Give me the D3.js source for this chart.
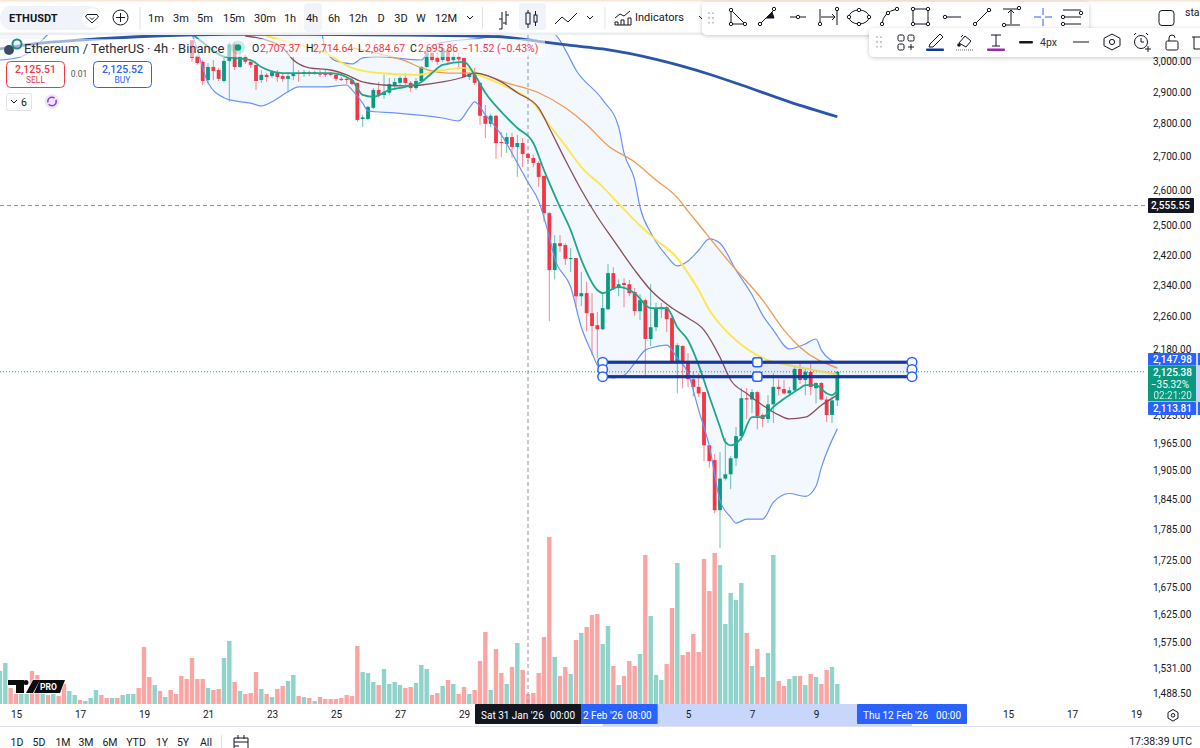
<!DOCTYPE html>
<html><head><meta charset="utf-8">
<script src="https://cdn.jsdelivr.net/npm/d3@7/dist/d3.min.js"></script>
<style>html,body{margin:0;padding:0;background:#fff;overflow:hidden}svg{display:block}text{font-family:Roboto,"Noto Sans",sans-serif}</style>
</head><body><svg id="c" width="1200" height="748"></svg>
<script>
// ---------- data ----------
const firstCandle = 33; // bar index of the first candle visible (earlier bars sit above the pane)
const opens = [3070,3017,2997,2937,2980,2970,2934,3000,3056,2980,3014,2997,2987,2937,2954,2950,2963,2950,2941,2950,2960,2957,2963,2957,2960,2958,2957,2954,2941,2941,2937,2928,2813,2813,2848,2905,2889,2896,2921,2928,2944,2928,2911,2934,2980,3027,3010,3003,3037,3003,3014,3010,2947,2963,2928,2823,2798,2823,2742,2736,2757,2727,2739,2706,2694,2679,2641,2534,2379,2451,2446,2409,2411,2311,2319,2268,2238,2228,2278,2371,2332,2345,2342,2322,2273,2301,2204,2233,2278,2283,2256,2148,2187,2146,2108,2090,2078,1959,1927,1823,1888,1897,1931,1979,2064,2061,2078,2026,2017,2050,2090,2085,2075,2082,2132,2106,2125,2087,2099,2061,2026,2059];
const highs = [3070,3020,3003,2993,3003,2977,3010,3063,3063,3037,3020,3003,2987,2970,2960,2970,2970,2960,2963,3014,2970,2970,2967,2967,2970,2970,2963,2960,2947,2947,2947,2928,2826,2854,2911,2931,2954,2944,2944,2950,2960,2934,2944,2983,3037,3037,3027,3050,3053,3037,3027,3010,2963,2977,2928,2857,2829,2826,2773,2770,2770,2764,2754,2709,2703,2685,2641,2537,2473,2473,2451,2438,2411,2374,2348,2319,2271,2319,2395,2387,2355,2358,2353,2332,2317,2306,2342,2294,2294,2286,2261,2194,2189,2170,2125,2122,2078,1959,1940,1944,1975,1936,1999,2087,2087,2085,2080,2030,2071,2122,2108,2106,2090,2136,2146,2132,2146,2101,2101,2068,2068,2125];
const lows = [2997,2987,2921,2924,2937,2934,2928,2867,2970,2977,2990,2977,2905,2928,2931,2944,2931,2931,2896,2937,2931,2947,2950,2954,2947,2947,2950,2934,2934,2924,2921,2804,2788,2810,2844,2880,2876,2889,2905,2921,2921,2899,2905,2931,2977,2997,2987,2997,2987,2993,2980,2947,2937,2921,2795,2754,2788,2691,2697,2709,2694,2638,2667,2685,2667,2609,2509,2248,2355,2427,2393,2374,2283,2286,2223,2165,2158,2226,2276,2327,2311,2283,2311,2261,2251,2117,2187,2223,2256,2221,2146,2075,2087,2090,2068,2066,1925,1911,1817,1748,1884,1866,1914,1968,2017,2030,1994,1999,2008,2008,2071,2073,2073,2078,2097,2071,2071,2052,2059,2010,2008,2046];
const closes = [3010,2993,2934,2980,2967,2941,3000,3056,2980,3014,2997,2987,2934,2954,2947,2963,2947,2941,2950,2960,2957,2963,2957,2963,2955,2954,2954,2941,2937,2937,2924,2810,2818,2851,2905,2889,2899,2924,2931,2944,2928,2911,2934,2980,3027,3003,2997,3043,3000,3014,3005,2947,2957,2928,2823,2798,2823,2739,2739,2757,2727,2739,2706,2694,2679,2638,2534,2379,2451,2443,2409,2411,2311,2319,2268,2236,2228,2281,2371,2329,2342,2340,2319,2273,2301,2204,2233,2281,2283,2253,2148,2189,2148,2108,2090,2075,1959,1925,1823,1888,1897,1931,1979,2064,2061,2078,2023,2017,2050,2090,2085,2075,2082,2132,2106,2125,2090,2099,2061,2026,2059,2125.38];

const firstVolume = -3; // bar index of the left-most volume bar (before 15 Jan)
const volumes = [33,41,16,10,10,10,33,29,10,9,10,8,20,13,9,4,3,6,14,9,6,6,6,9,10,10,16,57,27,19,13,7,14,10,28,25,
46,25,25,16,14,15,46,63,22,13,10,11,32,15,10,7,15,18,23,29,8,7,6,3,7,5,5,5,6,9,8,58,32,31,22,19,35,20,22,19,16,17,21,39,35,9,11,18,24,20,10,17,10,14,43,72,14,55,31,20,37,61,34,10,11,31,67,167,47,28,37,30,64,71,77,89,90,60,78,38,19,28,43,38,50,149,88,29,24,40,96,141,49,52,70,52,145,113,151,139,80,111,104,121,71,38,55,27,51,149,23,18,25,28,28,19,30,27,20,34,37,20];
const earlyVolumeSides = [..."UUDDUUDDUDUDDUUDUUUDDUDUUUDDDUDUDDDD"];

const ema200 = [[-3,3040],[4,3059],[12,3070],[26,3084],[40,3090],[61,3089],[90,3082],[98,3066],[104,3052],[110,3040],[120,3005],[130,2956],[136,2921],[145,2867],[154,2820]];
const fastEma = [[33,3090],[35,3063],[39,3014],[44,3003],[46,2980],[50,2960],[54,2960],[59,2960],[63,2937],[64,2911],[65,2889],[67,2883],[70,2905],[73,2915],[76,2931],[78,2960],[80,2987],[84,2997],[86,2954],[88,2896],[91,2835],[94,2785],[97,2739],[99,2658],[102,2551],[104,2487],[106,2406],[109,2327],[110,2319],[113,2335],[116,2319],[119,2281],[122,2281],[124,2233],[126,2201],[128,2141],[130,2068],[132,1999],[133,1966],[134,1959],[136,1975],[138,2021],[140,2021],[142,2044],[145,2071],[147,2087],[148,2094],[150,2094],[152,2075],[153,2071],[154,2082]];
const brownMa = [[43,3084],[47,3070],[50,3044],[52,3003],[55,2977],[59,2970],[62,2954],[65,2931],[69,2921],[73,2918],[76,2921],[80,2931],[84,2947],[86,2960],[91,2931],[94,2896],[98,2848],[100,2785],[103,2688],[106,2600],[109,2524],[112,2460],[116,2379],[119,2327],[123,2281],[126,2256],[129,2226],[132,2160],[134,2106],[137,2075],[140,2048],[143,2026],[145,2017],[148,2021],[151,2048],[154,2071]];
const yellowMa = [[47,3084],[51,3063],[58,3027],[63,2977],[68,2960],[75,2954],[80,2970],[84,2977],[86,2960],[92,2915],[97,2863],[100,2795],[103,2731],[106,2667],[110,2609],[113,2561],[116,2514],[120,2460],[124,2411],[126,2371],[128,2327],[130,2276],[133,2226],[135,2201],[141,2153],[145,2141],[154,2119]];
const orangeMa = [[63,3044],[69,3020],[73,3000],[76,2977],[81,2960],[86,2960],[92,2928],[98,2896],[103,2848],[107,2795],[111,2731],[116,2682],[120,2629],[124,2578],[126,2540],[128,2503],[134,2396],[140,2301],[144,2226],[147,2184],[154,2134]];
const bbUpper = [[-3,3300],[20,3320],[40,3340],[57,3120],[58,3037],[60,3000],[63,2990],[65,3010],[68,3014],[76,3003],[78,3050],[81,3065],[87,3076],[92,3090],[98,3103],[101,3090],[103,3037],[105,2970],[110,2873],[113,2788],[114,2709],[116,2629],[117,2551],[119,2480],[120,2455],[122,2417],[124,2390],[126,2403],[128,2432],[130,2463],[132,2451],[135,2379],[138,2315],[140,2263],[142,2226],[145,2180],[148,2192],[150,2204],[151,2177],[154,2146]];
const bbLower = [[-3,3003],[1,3014],[6,3090],[10,3170],[25,3280],[31,3150],[33,3090],[34,3037],[36,2928],[39,2880],[41,2870],[44,2863],[46,2854],[48,2867],[51,2899],[53,2915],[58,2915],[62,2921],[63,2905],[65,2863],[66,2838],[71,2832],[80,2816],[83,2807],[85,2848],[86,2867],[88,2826],[91,2764],[94,2679],[96,2622],[98,2568],[100,2468],[101,2411],[104,2335],[106,2233],[108,2170],[109,2141],[110,2125],[112,2111],[114,2117],[116,2146],[118,2177],[119,2182],[122,2189],[124,2158],[126,2122],[128,2037],[130,1957],[132,1843],[134,1809],[135,1797],[137,1805],[140,1805],[142,1839],[145,1857],[148,1851],[150,1872],[151,1911],[154,1995]];

const priceTicks = [3000,2900,2800,2700,2600,2500,2420,2340,2260,2180,2025,1965,1905,1845,1785,1725,1675,1625,1575,1531,1488.5];
const dayTicks = ["2026-01-15","2026-01-17","2026-01-19","2026-01-21","2026-01-23","2026-01-25","2026-01-27","2026-01-29","2026-02-05","2026-02-07","2026-02-09","2026-02-15","2026-02-17","2026-02-19"];
const crossPrice = 2555.55, crossTime = "2026-01-31T00:00:00Z";
const lastPrice = 2125.38;
const rectTop = 2147.98, rectBottom = 2113.81, rectStart = "2026-02-02T08:00:00Z", rectEnd = "2026-02-12T00:00:00Z";
const timeframes = [["1m",156],["3m",181],["5m",205],["15m",234],["30m",265],["1h",290],["4h",312],["6h",334],["12h",358],["D",381],["3D",401],["W",421],["12M",446]];
const ranges = [["1D",17],["5D",39],["1M",63],["3M",86],["6M",110],["YTD",136],["1Y",162],["5Y",183],["All",206]];

// ---------- scales ----------
const start = Date.UTC(2026,0,15);
const barTime = i => new Date(start + i*4*3600*1000);
const x = d3.scaleUtc().domain([new Date(start), new Date(Date.UTC(2026,1,19))]).range([16,1136]);
const y = d3.scaleLog().domain([2900,1488.5]).range([91.5,693]);
const vy = d3.scaleLinear().domain([0,167]).range([704,537]);
const bx = i => x(barTime(i));

const RED="#f23645", GREEN="#089981", BLUE="#2962ff", NAVY="#16389c", INK="#131722";
const svg = d3.select("#c");
const defs = svg.append("defs");
defs.append("clipPath").attr("id","pane").append("rect").attr("x",0).attr("y",34).attr("width",1145).attr("height",670);
const f = defs.append("filter").attr("id","sh").attr("x","-5%").attr("y","-20%").attr("width","110%").attr("height","150%");
f.append("feDropShadow").attr("dx",0).attr("dy",1).attr("stdDeviation",2).attr("flood-color","#000").attr("flood-opacity",.22);

const pane = svg.append("g").attr("clip-path","url(#pane)");

// volume
const vbars = volumes.map((v,k)=>{const i=firstVolume+k; let up;
  if(i<firstCandle) up = earlyVolumeSides[k]==="U"; else {const c=i-firstCandle; up = closes[c]>=opens[c];}
  return {i,v,up};});
pane.append("g").selectAll("rect").data(vbars).join("rect")
  .attr("x",d=>bx(d.i)-2.2).attr("width",4.4).attr("y",d=>vy(d.v)).attr("height",d=>vy(0)-vy(d.v))
  .attr("fill",d=>d.up?"#8fd3ca":"#f9a5a3");

// bollinger fill
const px = d=>bx(d[0]), py = d=>y(d[1]);
pane.append("path").attr("d",d3.line().x(px).y(py)(bbUpper.concat(bbLower.slice().reverse()))+"Z").attr("fill","#f3f8fe");
// crosshair + last price
pane.append("line").attr("x1",0).attr("x2",1145).attr("y1",y(lastPrice)).attr("y2",y(lastPrice)).attr("stroke","#1ea58d").attr("stroke-dasharray","1 2");
pane.append("line").attr("x1",0).attr("x2",1145).attr("y1",y(crossPrice)).attr("y2",y(crossPrice)).attr("stroke","#8f939c").attr("stroke-dasharray","4 3");
pane.append("line").attr("x1",x(new Date(crossTime))).attr("x2",x(new Date(crossTime))).attr("y1",34).attr("y2",704).attr("stroke","#8f939c").attr("stroke-dasharray","4 3");

// candles
const candles = opens.map((o,k)=>({i:firstCandle+k,o,h:highs[k],l:lows[k],c:closes[k]}));
const cg = pane.append("g");
cg.selectAll("line").data(candles).join("line")
  .attr("x1",d=>bx(d.i)).attr("x2",d=>bx(d.i)).attr("y1",d=>y(d.h)).attr("y2",d=>y(d.l))
  .attr("stroke",d=>d.c>=d.o?GREEN:RED).attr("stroke-width",1).attr("stroke-opacity",.6);
cg.selectAll("rect").data(candles).join("rect")
  .attr("x",d=>bx(d.i)-1.9).attr("width",3.8)
  .attr("y",d=>Math.min(y(d.o),y(d.c))).attr("height",d=>Math.max(1,Math.abs(y(d.o)-y(d.c))))
  .attr("fill",d=>d.c>=d.o?GREEN:RED);

// indicator lines
const ln = d3.line().x(px).y(py).curve(d3.curveMonotoneX);
const drawLine=(data,col,w)=>pane.append("path").attr("d",ln(data)).attr("fill","none").attr("stroke",col).attr("stroke-width",w);
drawLine(bbUpper,"#6a92f8",1.2); drawLine(bbLower,"#6a92f8",1.2);
drawLine(orangeMa,"#f19a4f",1.3);
drawLine(yellowMa,"#fde74f",1.9);
drawLine(brownMa,"#8a4f55",1.3);
drawLine(fastEma,"#1fa68c",1.8);
drawLine(ema200,"#2a55a8",2.8);

// drawn rectangle
const rx0=x(new Date(rectStart)), rx1=x(new Date(rectEnd)), ry0=y(rectTop), ry1=y(rectBottom), rxm=(rx0+rx1)/2, rym=(ry0+ry1)/2;
const rg = svg.append("g");
rg.append("rect").attr("x",rx0).attr("y",ry0).attr("width",rx1-rx0).attr("height",ry1-ry0).attr("fill","rgba(22,56,156,.08)").attr("stroke",NAVY).attr("stroke-width",3.2);
[[rx0,ry0],[rx1,ry0],[rx0,rym],[rx1,rym],[rx0,ry1],[rx1,ry1]].forEach(p=>rg.append("circle").attr("cx",p[0]).attr("cy",p[1]).attr("r",4.8).attr("fill","#fff").attr("stroke",BLUE).attr("stroke-width",1.5));
[[rxm,ry0],[rxm,ry1]].forEach(p=>rg.append("rect").attr("x",p[0]-4.6).attr("y",p[1]-4.6).attr("width",9.2).attr("height",9.2).attr("rx",2.5).attr("fill","#fff").attr("stroke",BLUE).attr("stroke-width",1.5));

// time-axis band (under the tick labels)
svg.append("rect").attr("x",rx0).attr("y",704).attr("width",rx1-rx0).attr("height",22).attr("fill","#c8d6fb");

// axes
const yAxis = d3.axisRight(y).tickValues(priceTicks).tickFormat(d3.format(",.2f")).tickSize(0).tickPadding(0);
const ya = svg.append("g").attr("transform","translate(1153,0)").call(yAxis);
ya.select(".domain").remove();
ya.selectAll("text").attr("font-size",10).attr("fill",INK).attr("font-family","Roboto").attr("dy","0.35em");
const xAxis = d3.axisBottom(x).tickValues(dayTicks.map(d=>new Date(d+"T00:00:00Z"))).tickFormat(d3.utcFormat("%-d")).tickSize(0).tickPadding(0);
const xa = svg.append("g").attr("transform","translate(0,711)").call(xAxis);
xa.select(".domain").remove();
xa.selectAll("text").attr("font-size",10).attr("fill",INK).attr("font-family","Roboto");

const T=(s,px_,py_,o={})=>svg.append("text").attr("x",px_).attr("y",py_).attr("font-size",o.s||11).attr("fill",o.c||INK).attr("text-anchor",o.a||"start").attr("font-weight",o.w||400).attr("dominant-baseline","central").attr("opacity",o.o||1).text(s);
const R=(a,b,w,h,c,rr=0)=>svg.append("rect").attr("x",a).attr("y",b).attr("width",w).attr("height",h).attr("fill",c).attr("rx",rr);
const P=(d,c=INK,w=1,fill="none")=>svg.append("path").attr("d",d).attr("stroke",c).attr("stroke-width",w).attr("fill",fill);

svg.append("line").attr("x1",0).attr("x2",1200).attr("y1",726.5).attr("y2",726.5).attr("stroke","#e0e3eb");
function timeLabel(cx,w,col,date,time,datex){R(cx-w/2,704,w,20,col,1);T(date,datex===undefined?cx-w/2+6:datex,715,{c:"#fff",s:10});T(time,cx+w/2-6,715,{c:"#fff",s:10,a:"end"});}
// the black crosshair label covers the weekday of this one, as in the reference
timeLabel(x(new Date(rectStart)),110,BLUE,"2 Feb '26","08:00",583);
timeLabel(x(new Date(rectEnd)),110,BLUE,"Thu 12 Feb '26","00:00");
timeLabel(x(new Date(crossTime)),106,INK,"Sat 31 Jan '26","00:00");

// price labels
R(1148,198,46,15,INK,1);
T(d3.format(",.2f")(crossPrice),1190,205.5,{a:"end",s:10,c:"#fff",w:500});
R(1196,353,4,62,"#c9d6f8");
R(1148,353,48,12.5,BLUE,1); T(d3.format(",.2f")(rectTop),1192,359.5,{a:"end",s:10,c:"#fff",w:500});
R(1148,365.5,48,36,GREEN);
T(d3.format(",.2f")(lastPrice),1192,372.5,{a:"end",s:10,c:"#fff",w:500});
T("−35.32%",1189,384,{a:"end",s:10,c:"#fff"});
T("02:21:20",1192,395,{a:"end",s:10,c:"#fff",o:.8});
R(1148,402,48,13,BLUE,1); T(d3.format(",.2f")(rectBottom),1192,408.5,{a:"end",s:10,c:"#fff",w:500});
R(1198,353,2,12,BLUE); R(1198,402,2,13,BLUE);

// gear
P("M1173 709.5l5 3v5.6l-5 3-5-3v-5.6z",INK,1); svg.append("circle").attr("cx",1173).attr("cy",715.3).attr("r",1.8).attr("fill","none").attr("stroke",INK);

// bottom bar
ranges.forEach(r=>T(r[0],r[1],742,{a:"middle",s:10.5}));
svg.append("line").attr("x1",221.5).attr("x2",221.5).attr("y1",735).attr("y2",748).attr("stroke","#e0e3eb");
P("M234 748v-10h14v10M234 742h14M238 735v4M244 735v4M234 746h5",INK,1);
T("17:38:39 UTC",1192,741,{a:"end",s:10.5});

// TV PRO logo
const logo = svg.append("g").attr("transform","translate(8,680)");
logo.append("path").attr("d","M0 0H16V13H8V5H0ZM18 0A2.5 2.5 0 1 1 18 5A2.5 2.5 0 1 1 18 0ZM25 0H32L25 13H18Z M32 0H57L52 13H26Z").attr("fill","#0b0b0e").attr("stroke","#fff").attr("stroke-width",1.2).attr("paint-order","stroke");
logo.append("text").attr("x",32).attr("y",7).attr("font-size",8.5).attr("font-weight",700).attr("fill","#fff").attr("dominant-baseline","central").text("PRO");

// legend overlay
R(0,39,545,18,"rgba(255,255,255,.55)");
svg.append("circle").attr("cx",9).attr("cy",50).attr("r",5).attr("fill","#3d4a63");
svg.append("circle").attr("cx",17).attr("cy",44).attr("r",4.5).attr("fill","none").attr("stroke","#1b8f86").attr("stroke-width",2);
T("Ethereum / TetherUS · 4h · Binance",24,48,{s:13,c:"#2a2e39"});
svg.append("circle").attr("cx",238).attr("cy",47.5).attr("r",7).attr("fill","#089981").attr("opacity",.18);
svg.append("circle").attr("cx",238).attr("cy",47.5).attr("r",3.2).attr("fill","#089981");
[["O",252],["H",306],["L",358],["C",410]].forEach(d=>T(d[0],d[1],48,{s:10.5}));
[["2,707.37",260],["2,714.64",313],["2,684.67",365],["2,695.86",418],["−11.52",462],["(−0.43%)",497]].forEach(d=>T(d[0],d[1],48,{s:10.5,c:"#f23645"}));

// sell / buy
svg.append("rect").attr("x",6.5).attr("y",61.5).attr("width",58).attr("height",26).attr("rx",4).attr("fill","#fff").attr("stroke",RED);
T("2,125.51",35.5,69,{a:"middle",s:10.5,c:RED,w:500}); T("SELL",35.5,80,{a:"middle",s:8.5,c:RED});
T("0.01",79,74,{a:"middle",s:8.5,c:"#50535e"});
svg.append("rect").attr("x",93.5).attr("y",61.5).attr("width",58).attr("height",26).attr("rx",4).attr("fill","#fff").attr("stroke",BLUE);
T("2,125.52",122.5,69,{a:"middle",s:10.5,c:BLUE,w:500}); T("BUY",122.5,80,{a:"middle",s:8.5,c:BLUE});
svg.append("rect").attr("x",6.5).attr("y",93.5).attr("width",25).attr("height",17).attr("rx",2).attr("fill","#fff").attr("stroke","#e0e3eb");
P("M11 100l3 3 3-3",INK,1); T("6",24,102,{a:"middle",s:10.5});
svg.append("circle").attr("cx",52).attr("cy",101.5).attr("r",7.5).attr("fill","#efe6fa");
svg.append("circle").attr("cx",52).attr("cy",101.5).attr("r",4.2).attr("fill","none").attr("stroke","#8e3fd8").attr("stroke-width",1.6).attr("stroke-dasharray","10 2");

// ---- top toolbar ----
R(0,0,1200,33,"#fff"); R(0,0,1200,1.5,"#f7e7d8"); R(0,32.5,1200,2.5,"#eceef2");
R(0,6,102,24,"#f0f3fa",12);
T("ETHUSDT",9,18,{s:11,w:700});
svg.append("circle").attr("cx",92).attr("cy",18).attr("r",10).attr("fill","#fff");
P("M87 14.5h10l1.5 2.5-6.5 6-6.5-6z",INK,1); P("M90 17.5l2 2 2-2",INK,1);
svg.append("circle").attr("cx",120.5).attr("cy",17.5).attr("r",7.5).attr("fill","none").attr("stroke",INK);
P("M120.5 13v9M116 17.5h9",INK,1);
[140,482.5].forEach(v=>svg.append("line").attr("x1",v).attr("x2",v).attr("y1",7).attr("y2",29).attr("stroke","#e0e3eb"));
R(304,3,18,29,"#f0f3fa",4);
timeframes.forEach(t=>T(t[0],t[1],18,{a:"middle",s:11}));
P("M467 16l3 3 3-3",INK,1);
P("M502 12v17M499 29h3M502 19h-3M506 11v14M506 15h3M506 23h-3",INK,1);
R(519,3,27,27,"#f0f3fa",4);
svg.append("rect").attr("x",526).attr("y",13).attr("width",4).attr("height",11).attr("fill","none").attr("stroke",INK);
svg.append("rect").attr("x",534).attr("y",15).attr("width",3).attr("height",7).attr("fill","none").attr("stroke",INK);
P("M528 10v3M528 24v4M535.5 11v4M535.5 22v4",INK,1);
P("M555 24l7-7 6 5 9-9",INK,1);
P("M587 16l3 3 3-3",INK,1);
svg.append("line").attr("x1",605).attr("x2",605).attr("y1",7).attr("y2",29).attr("stroke","#e0e3eb");
P("M615 25h16v-7h-3v7M621 25v-5h3v5M615 25v-3h3v3M615 18l5-4 4 2 6-5",INK,1);
T("Indicators",635,17,{s:11});
P("M699 16l3 3 3-3",INK,1);

// floating drawing toolbar 1
svg.append("rect").attr("x",702).attr("y",2).attr("width",387).attr("height",33).attr("rx",5).attr("fill","#fff").attr("filter","url(#sh)");
const dots=(cx,cy)=>[-3,0,3].forEach(dy=>[-2,2].forEach(dx=>svg.append("circle").attr("cx",cx+dx).attr("cy",cy+dy*1.6).attr("r",.9).attr("fill","#b2b5be")));
dots(711,18);
const C=(a,b,col=INK)=>svg.append("circle").attr("cx",a).attr("cy",b).attr("r",1.7).attr("fill","#fff").attr("stroke",col);
P("M731 10l14 14h-14z"); C(731,10);C(731,24);C(745,24);
P("M760 24l14-14"); P("M766 18l6-6 2 6z",INK,1,INK); C(760,24);C(774,9);
P("M790 17h16"); C(798,17);
P("M820 9v16M837 9v16M821 17h14M832 14l3 3-3 3"); C(820,24);C(837,9);
svg.append("ellipse").attr("cx",859).attr("cy",17).attr("rx",10).attr("ry",7).attr("fill","none").attr("stroke",INK); C(849,17);C(859,10);C(869,17);C(859,24);
P("M882 24q1-12 15-15"); C(882,24);C(888,13);C(897,9);
svg.append("rect").attr("x",913).attr("y",9).attr("width",15).attr("height",15).attr("fill","none").attr("stroke",INK); C(913,9);C(928,9);C(913,24);C(928,24);
P("M945 17h16"); C(945,17);
P("M975 24l14-14"); C(975,24);C(989,10);
P("M1003 9h16M1005 25h15M1011 24v-14M1008 13l3-3 3 3"); C(1019,8);C(1004,25);
P("M1043 8v7M1043 19v7M1034 17h7M1045 17h7",BLUE,1);
P("M1063 10h18M1063 17h18M1063 24h18"); C(1081,13);C(1063,17);C(1063,24);
svg.append("rect").attr("x",1159).attr("y",10.5).attr("width",15).attr("height",15).attr("rx",3).attr("fill","none").attr("stroke",INK);
T("sta",1185,12,{s:10.5});

// floating toolbar 2
svg.append("rect").attr("x",869).attr("y",28).attr("width",340).attr("height",29).attr("rx",5).attr("fill","#fff").attr("filter","url(#sh)");
dots(879,42);
[[898,35],[908,35],[898,44]].forEach(p=>svg.append("rect").attr("x",p[0]).attr("y",p[1]).attr("width",6).attr("height",6).attr("rx",1.5).attr("fill","none").attr("stroke",INK));
P("M911 44v6M908 47h6");
P("M930 44l10-10 3 3-10 10h-4z"); R(926,48.5,18,2.6,"#0a3a9f",1);
P("M959 43l6-7 6 5-5 6z M961 37l2-2"); svg.append("circle").attr("cx",959).attr("cy",45).attr("r",1.8).attr("fill",INK);
P("M956 50h18","#b2b5be",2).attr("stroke-dasharray","1 1");
P("M991 35h10M996 35v11M992 46h8"); R(987,48.5,18,2.6,"#9c27b0",1);
R(1019,41,14,2.6,INK,1.3);
T("4px",1040,42.5,{s:10.5,c:"#2a2e39"});
P("M1073 42h16");
P("M1112 34l8 4.3v7.4l-8 4.3-8-4.3v-7.4z"); svg.append("circle").attr("cx",1112).attr("cy",42).attr("r",2.6).attr("fill","none").attr("stroke",INK);
svg.append("circle").attr("cx",1141).attr("cy",42).attr("r",6.5).attr("fill","none").attr("stroke",INK);
P("M1141 38v4h3M1134 35l2-2M1148 35l-2-2M1145 49h6M1148 46v6");
svg.append("rect").attr("x",1166).attr("y",41).attr("width",12).attr("height",9).attr("rx",1.5).attr("fill","none").attr("stroke",INK);
P("M1169 41v-3a3 3 0 0 1 6 0");
P("M1192 37h8M1194 37v12h6");
</script></body></html>
